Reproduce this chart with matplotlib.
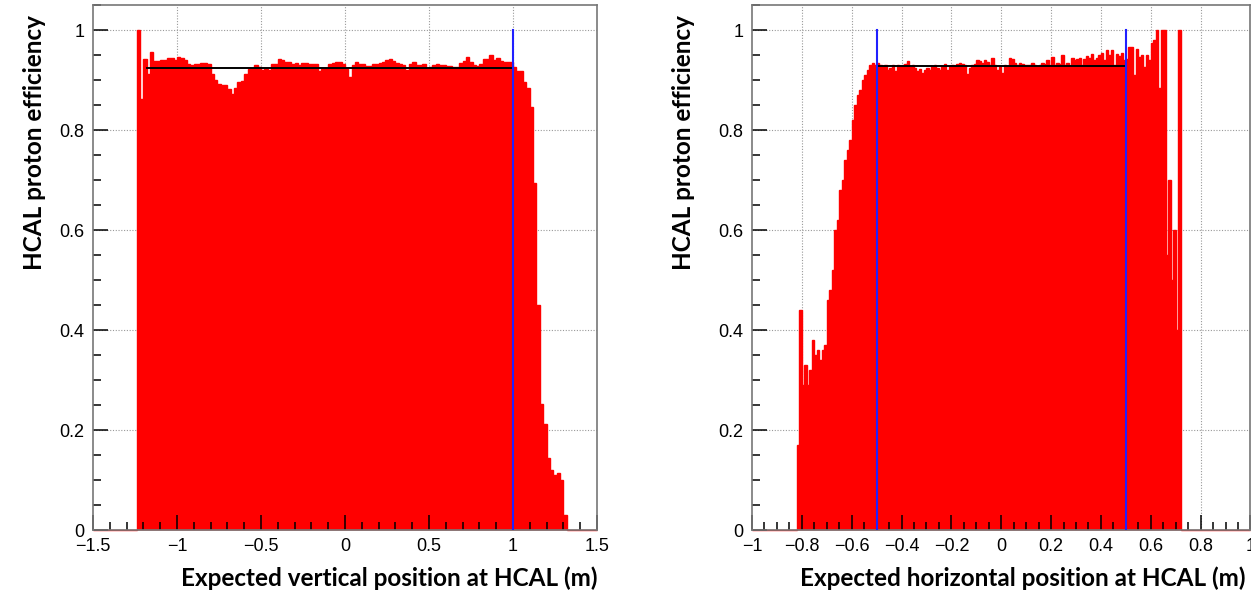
import numpy as np
import matplotlib
matplotlib.use('Agg')
import matplotlib.pyplot as plt
from matplotlib.ticker import MultipleLocator, FuncFormatter

# vertical scan: 0.02 m bins on [-1.5, 1.5], first filled bin starts at -1.24
vert_range = (-1.5, 1.5)
vert_binw = 0.02
vert_start = -1.24
vert_eff = [
    1.0, 0.863, 0.943, 0.912, 0.957, 0.939, 0.939, 0.941, 0.941, 0.945,
    0.945, 0.941, 0.947, 0.945, 0.94, 0.933, 0.93, 0.932, 0.932, 0.935,
    0.935, 0.933, 0.912, 0.901, 0.893, 0.89, 0.89, 0.883, 0.873, 0.885,
    0.897, 0.898, 0.912, 0.923, 0.925, 0.93, 0.927, 0.92, 0.923, 0.92,
    0.933, 0.933, 0.942, 0.94, 0.937, 0.937, 0.932, 0.935, 0.93, 0.935,
    0.935, 0.933, 0.933, 0.933, 0.919, 0.923, 0.925, 0.932, 0.935, 0.937,
    0.937, 0.932, 0.923, 0.907, 0.93, 0.937, 0.933, 0.933, 0.928, 0.928,
    0.933, 0.933,
    0.935, 0.937, 0.94, 0.943, 0.938, 0.935, 0.933, 0.93, 0.92, 0.933,
    0.937, 0.93, 0.931, 0.933, 0.922, 0.927, 0.931, 0.933, 0.93, 0.93,
    0.928, 0.928, 0.927, 0.927, 0.935, 0.938, 0.947, 0.937, 0.93, 0.928,
    0.932, 0.943, 0.943, 0.95, 0.94, 0.945, 0.938, 0.937, 0.937, 0.937,
    0.927, 0.918, 0.918, 0.897, 0.885, 0.847,
    0.695, 0.45, 0.252, 0.213, 0.145, 0.12, 0.11, 0.115, 0.10, 0.031,
]
vert_fit = 0.925
vert_fit_x = (-1.18, 1.0)
vert_cuts = [1.0]

# horizontal scan: 0.01 m bins on [-1, 1], first filled bin starts at -0.82
horiz_range = (-1.0, 1.0)
horiz_binw = 0.01
horiz_start = -0.82
horiz_eff = [
    0.17, 0.44, 0.29, 0.33, 0.29, 0.32, 0.38, 0.35, 0.36, 0.34,
    0.36, 0.37, 0.46, 0.48, 0.52, 0.60, 0.62, 0.68, 0.70, 0.74,
    0.76, 0.78, 0.82, 0.85, 0.87, 0.88, 0.90, 0.91, 0.92, 0.93,
    0.935, 0.93,
    0.935, 0.93, 0.928, 0.93, 0.92, 0.925, 0.93, 0.918, 0.93, 0.928,
    0.93, 0.932, 0.938, 0.928, 0.93, 0.925, 0.918, 0.922, 0.915, 0.92,
    0.925, 0.92, 0.928, 0.93, 0.925, 0.92, 0.928, 0.932, 0.92, 0.928,
    0.93, 0.928, 0.933, 0.935, 0.932, 0.93, 0.913, 0.925, 0.93, 0.932,
    0.94, 0.938, 0.935, 0.94, 0.936, 0.93, 0.944, 0.93, 0.92, 0.928,
    0.915, 0.93, 0.928, 0.944, 0.942, 0.935, 0.93, 0.935, 0.932, 0.93,
    0.93, 0.93, 0.935, 0.93, 0.928, 0.93, 0.935, 0.932, 0.94, 0.93,
    0.947, 0.93, 0.935, 0.932, 0.95, 0.93, 0.935, 0.928, 0.945, 0.94,
    0.943, 0.945, 0.93, 0.942, 0.948, 0.945, 0.953, 0.94, 0.945, 0.95,
    0.955, 0.94, 0.96, 0.95, 0.961, 0.93, 0.952, 0.948, 0.955, 0.94,
    0.943, 0.967, 0.967, 0.91, 0.963, 0.947, 0.95, 0.927, 0.951, 0.94,
    0.975, 0.98, 1.0, 0.885, 1.0, 1.0, 0.55, 0.70, 0.50, 0.60,
    0.40, 1.0,
]
horiz_fit = 0.928
horiz_fit_x = (-0.49, 0.5)
horiz_cuts = [-0.5, 0.5]

label_font = 'Lato'
tick_font = 'Liberation Sans'


def panel(ax, xr, binw, start, eff, fit, fit_x, cuts, xmajor, xminor, xlabel,
          xlab_pos, ylab_pos):
    nb = int(round((xr[1] - xr[0]) / binw))
    edges = np.linspace(xr[0], xr[1], nb + 1)
    vals = np.zeros(nb)
    i0 = int(round((start - xr[0]) / binw))
    vals[i0:i0 + len(eff)] = eff

    ax.set_xlim(*xr)
    ax.set_ylim(0, 1.05)
    ax.xaxis.set_major_locator(MultipleLocator(xmajor))
    ax.xaxis.set_minor_locator(MultipleLocator(xminor))
    ax.yaxis.set_major_locator(MultipleLocator(0.2))
    ax.yaxis.set_minor_locator(MultipleLocator(0.05))
    fmt = FuncFormatter(lambda v, p: ('%g' % round(v, 3)).replace('-', '\u2212'))
    ax.xaxis.set_major_formatter(fmt)
    ax.yaxis.set_major_formatter(fmt)

    # dotted grid behind the histogram
    for t in ax.get_xticks():
        if xr[0] < t < xr[1]:
            ax.axvline(t, color='#999999', ls=(0, (1, 1.5)), lw=0.8, zorder=0.5)
    for t in ax.get_yticks():
        if 0 < t < 1.05:
            ax.axhline(t, color='#999999', ls=(0, (1, 1.5)), lw=0.8, zorder=0.5)

    ax.stairs(vals, edges, fill=True, facecolor='#ff0000', edgecolor='#ff0000',
              lw=1.0, zorder=1, clip_on=False)
    ax.plot(fit_x, [fit, fit], color='black', lw=1.4, zorder=3)
    for c in cuts:
        ax.plot([c, c], [0, 1], color='#2020ff', lw=1.5, zorder=3)

    ax.tick_params(which='both', direction='in', top=False, right=False,
                   width=1.1, color='black')
    ax.tick_params(which='major', length=11, labelsize=13, pad=6)
    ax.tick_params(which='minor', length=5.5)
    for lab in ax.get_xticklabels() + ax.get_yticklabels():
        lab.set_family(tick_font)
    for s in ax.spines.values():
        s.set_color('#777777')
        s.set_linewidth(1.2)

    ax.set_xlabel(xlabel, loc='right', fontsize=17.5, fontweight='bold',
                  family=label_font)
    ax.set_ylabel('HCAL proton efficiency', loc='top', fontsize=17.5,
                  fontweight='bold', family=label_font)
    ax.xaxis.set_label_coords(*xlab_pos)
    ax.yaxis.set_label_coords(*ylab_pos)


fig = plt.figure(figsize=(12.51, 5.96), dpi=100)
ax1 = fig.add_axes([0.0743, 0.1107, 0.4029, 0.8809])
ax2 = fig.add_axes([0.6011, 0.1107, 0.3985, 0.8809])

panel(ax1, vert_range, vert_binw, vert_start, vert_eff, vert_fit, vert_fit_x,
      vert_cuts, 0.5, 0.1, 'Expected vertical position at HCAL (m)',
      (1.002, -0.07), (-0.094, 0.981))
panel(ax2, horiz_range, horiz_binw, horiz_start, horiz_eff, horiz_fit, horiz_fit_x,
      horiz_cuts, 0.2, 0.05, 'Expected horizontal position at HCAL (m)',
      (0.99, -0.07), (-0.114, 0.981))

fig.savefig('out.png', dpi=100)
